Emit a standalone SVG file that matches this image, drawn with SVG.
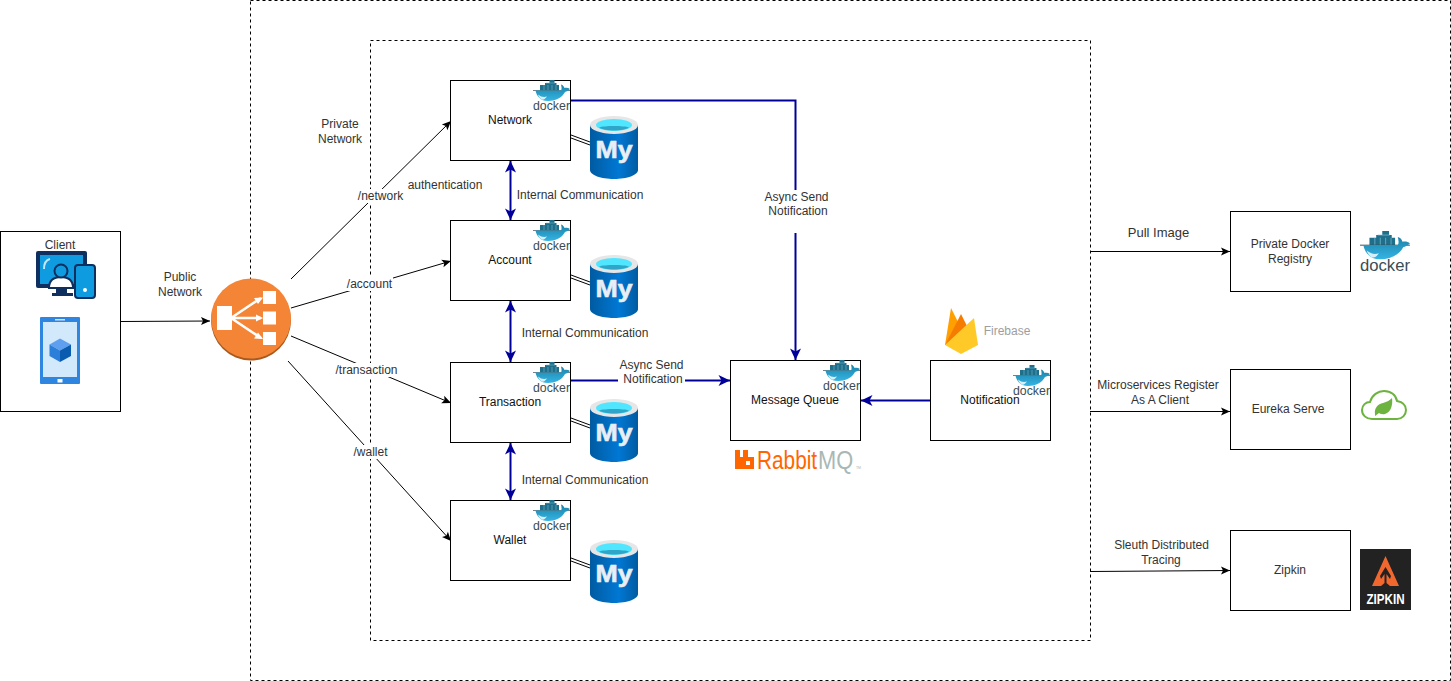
<svg xmlns="http://www.w3.org/2000/svg" width="1451" height="681" viewBox="0 0 1451 681">
<style>
text{font-family:"Liberation Sans",Arial,sans-serif;font-size:12px;text-anchor:middle}
.box{fill:#fff;stroke:#000;stroke-width:1}
.dash{fill:none;stroke:#000;stroke-width:1;stroke-dasharray:3 3}
.lbl{fill:#333}
.node{fill:#111}
.thin{fill:none;stroke:#000;stroke-width:1}
.blue{fill:none;stroke:#000099;stroke-width:2}
.bg{fill:#fff}
</style>
<defs>
<marker id="ak" markerWidth="11" markerHeight="10" refX="9.5" refY="4.5" orient="auto" markerUnits="userSpaceOnUse" overflow="visible"><path d="M0.5 0.5L9.5 4.5L0.5 8.500L2.500 4.500Z" fill="#000"/></marker>
<marker id="ab" markerWidth="13" markerHeight="12" refX="11.500" refY="6" orient="auto-start-reverse" markerUnits="userSpaceOnUse" overflow="visible"><path d="M0 0.500L11.500 6L0 11.500L3 6Z" fill="#000099"/></marker>
<linearGradient id="hull" x1="0" y1="0" x2="0" y2="1"><stop offset="0" stop-color="#1b82a8"/><stop offset="1" stop-color="#35b4e4"/></linearGradient>
<linearGradient id="my" x1="0" y1="0" x2="1" y2="0"><stop offset="0" stop-color="#005ba1"/><stop offset=".6" stop-color="#0078d4"/><stop offset="1" stop-color="#005ba1"/></linearGradient>
<g id="docker">
<path d="M7 5h5v-2h4.500v-3h5v3h2v2h2.500v5.500H7Z" fill="#1f6f8b"/>
<path d="M11 5v5.500M15 5v5.500M19 5v5.500M23 5v5.500M13 3h9" stroke="#7fc4dc" stroke-width=".5" fill="none"/>
<path d="M0 10.500H37" stroke="#394d54" stroke-width=".7"/>
<path d="M2.500 10.500H28C29 9 28.500 6.500 28 4.500C30 5 31 6.500 31.500 8C33.500 7.500 35.500 8 37 9C35.500 10.500 33.500 11.500 32 12C29 18 22 21 15 21C7.500 21 3.500 16 2.500 10.500Z" fill="url(#hull)"/>
<path d="M5 14.500C8 17 11 17.500 14 16.500C12 19.500 10 20.500 8 19C6.500 18 5.500 16 5 14.500Z" fill="#d5eef7"/>
<text x="18.500" y="29.500" style="font-size:12.500px;fill:#394d54" textLength="37" lengthAdjust="spacingAndGlyphs">docker</text>
</g>
<g id="mysql">
<path d="M0 9V54C0 59 11 63 24 63S48 59 48 54V9Z" fill="url(#my)"/>
<ellipse cx="24" cy="9" rx="24" ry="9" fill="#e6e6e6"/>
<ellipse cx="24" cy="9" rx="18" ry="6" fill="#50e6ff"/>
<path d="M9 11.500C14 9.500 34 9.500 39 11.500C34 15.500 14 15.500 9 11.500Z" fill="#2fa6c8"/>
<text x="24" y="42" style="font-size:23px;font-weight:bold;fill:#e8eef5;stroke:#e8eef5;stroke-width:.6" textLength="37" lengthAdjust="spacingAndGlyphs">My</text>
</g>
</defs>
<rect width="1451" height="681" fill="#fff"/>
<rect class="dash" x="250.500" y="0.500" width="1200" height="680"/>
<rect class="dash" x="370.500" y="40.500" width="720" height="600"/>

<g id="connectors">
<path class="thin" d="M121 321.500L210 321" marker-end="url(#ak)"/>
<path class="thin" d="M291 279L451 121" marker-end="url(#ak)"/>
<path class="thin" d="M291 308L451 261" marker-end="url(#ak)"/>
<path class="thin" d="M291 336L451 403" marker-end="url(#ak)"/>
<path class="thin" d="M288 361L451 541" marker-end="url(#ak)"/>
<path class="thin" d="M571 135L590 142M571 138L590 145"/>
<path class="thin" d="M571 275L590 282M571 278L590 285"/>
<path class="thin" d="M571 418L590 425M571 421L590 428"/>
<path class="thin" d="M571 558L590 565M571 561L590 568"/>
<path class="blue" d="M510.500 161V220" marker-start="url(#ab)" marker-end="url(#ab)"/>
<path class="blue" d="M510.500 301V362" marker-start="url(#ab)" marker-end="url(#ab)"/>
<path class="blue" d="M510.500 443V500" marker-start="url(#ab)" marker-end="url(#ab)"/>
<path class="blue" d="M570 100.500H795.500V360" marker-end="url(#ab)"/>
<path class="blue" d="M570 380.500H730" marker-end="url(#ab)"/>
<path class="blue" d="M930 400.500H861" marker-end="url(#ab)"/>
<path class="thin" d="M1090 251.500H1230" marker-end="url(#ak)"/>
<path class="thin" d="M1090 411.500H1230" marker-end="url(#ak)"/>
<path class="thin" d="M1090 571.500L1230 570.500" marker-end="url(#ak)"/>
<rect class="bg" x="360" y="189" width="42" height="14"/>
<rect class="bg" x="346" y="277" width="47" height="14"/>
<rect class="bg" x="335" y="363" width="63" height="14"/>
<rect class="bg" x="352" y="445" width="37" height="14"/>
<rect class="bg" x="760" y="190" width="72" height="43"/>
<rect class="bg" x="618" y="372" width="67" height="14"/>
<text class="lbl" x="380.500" y="200">/network</text>
<text class="lbl" x="369.500" y="288">/account</text>
<text class="lbl" x="366.500" y="374">/transaction</text>
<text class="lbl" x="370.500" y="456">/wallet</text>
<text class="lbl" x="180" y="281">Public</text>
<text class="lbl" x="180" y="296">Network</text>
<text class="lbl" x="340" y="128">Private</text>
<text class="lbl" x="340" y="143">Network</text>
<text class="lbl" x="445" y="189">authentication</text>
<text class="lbl" x="580" y="199">Internal Communication</text>
<text class="lbl" x="585" y="337">Internal Communication</text>
<text class="lbl" x="585" y="484">Internal Communication</text>
<text class="lbl" x="796.500" y="201">Async Send</text>
<text class="lbl" x="798" y="215">Notification</text>
<text class="lbl" x="651.500" y="369">Async Send</text>
<text class="lbl" x="653" y="383">Notification</text>
<text class="lbl" x="1158.500" y="237" style="font-size:13px">Pull Image</text>
<text class="lbl" x="1158" y="389">Microservices Register</text>
<text class="lbl" x="1160" y="404">As A Client</text>
<text class="lbl" x="1161.500" y="549">Sleuth Distributed</text>
<text class="lbl" x="1161" y="564">Tracing</text>
</g>

<g id="client">
<rect x="0.500" y="231.500" width="120" height="180" fill="#fff" stroke="#000"/>
<text class="lbl" x="60" y="249">Client</text>
<g id="client-desktop">
<rect x="36" y="251" width="51" height="37" rx="2" fill="#0f2f5f"/>
<rect x="40" y="255" width="43" height="29" fill="#0f9be0"/>
<path d="M44 269C44 263 46 260 50 259" stroke="#bfe6fb" stroke-width="2" fill="none"/>
<path d="M56 288H67V293H73V296H52V293H56Z" fill="#0f2f5f"/>
<path d="M49 288C49 280 54 277 61 277S73 280 73 288Z" fill="#fff" stroke="#0f2f5f" stroke-width="2"/>
<circle cx="61" cy="271" r="6.500" fill="#0f9be0" stroke="#0f2f5f" stroke-width="2"/>
<rect x="75" y="265" width="20" height="33" rx="3" fill="#0f9be0" stroke="#0f2f5f" stroke-width="2"/>
<circle cx="85" cy="290" r="2" fill="#fff"/>
</g>
<g id="client-mobile">
<rect x="40" y="317" width="40" height="67" rx="1" fill="#2f86e0"/>
<rect x="43" y="322" width="34" height="55" fill="#d2e9fb"/>
<rect x="55" y="319" width="10" height="1.500" fill="#cfe3f8"/>
<rect x="57.500" y="379" width="5" height="3.500" fill="#fff"/>
<path d="M60 338.500L71 344.500L60 350.500L49.500 344.500Z" fill="#5ea0ef"/>
<path d="M49.500 344.500L60 350.500V362L49.500 356Z" fill="#2b7fd8"/>
<path d="M71 344.500L60 350.500V362L71 356Z" fill="#0a5cb0"/>
</g>
</g>

<g id="load-balancer">
<circle cx="251" cy="320.500" r="40" fill="#a8591e"/>
<circle cx="251" cy="318.500" r="40" fill="#f58536"/>
<rect x="217" y="306" width="15" height="24" fill="#fff"/>
<rect x="263" y="291" width="13" height="13" fill="#fff"/>
<rect x="263" y="311.500" width="13" height="13" fill="#fff"/>
<rect x="263" y="332" width="13" height="13" fill="#fff"/>
<path d="M231 318L261 298M231 318H261M231 318L261 338" stroke="#fff" stroke-width="2.500" fill="none"/>
<path d="M263 297.500L254 298L258 304ZM263 318L256 314.500V321.500ZM263 339L254 338.500L258 332.500Z" fill="#fff"/>
</g>

<g id="network"><rect class="box" x="450.500" y="80.500" width="120" height="80"/><text class="node" x="510" y="124">Network</text><use href="#docker" x="533" y="80"/><use href="#mysql" x="590" y="116"/></g>
<g id="account"><rect class="box" x="450.500" y="220.500" width="120" height="80"/><text class="node" x="510" y="264">Account</text><use href="#docker" x="533" y="220"/><use href="#mysql" x="590" y="255"/></g>
<g id="transaction"><rect class="box" x="450.500" y="362.500" width="120" height="80"/><text class="node" x="510" y="406">Transaction</text><use href="#docker" x="533" y="362"/><use href="#mysql" x="590" y="399"/></g>
<g id="wallet"><rect class="box" x="450.500" y="500.500" width="120" height="80"/><text class="node" x="510" y="544">Wallet</text><use href="#docker" x="533" y="500"/><use href="#mysql" x="590" y="540"/></g>

<g id="message-queue"><rect class="box" x="730.500" y="360.500" width="130" height="80"/><text class="node" x="795" y="404">Message Queue</text><use href="#docker" x="823" y="360"/>
<path d="M735 450H740V457H743V450H748V457H754V469H735ZM746 461V465H750V461Z" fill="#f60" fill-rule="evenodd"/>
<text transform="translate(757 469) scale(.8 1)" style="font-size:26px;text-anchor:start;fill:#f60">Rabbit</text>
<text transform="translate(818 469) scale(.84 1)" style="font-size:26px;text-anchor:start;fill:#a9b8b5">MQ</text>
<text x="858.500" y="469" style="font-size:3.500px;fill:#a9b8b5">TM</text>
</g>

<g id="notification"><rect class="box" x="930.500" y="360.500" width="120" height="80"/><use href="#docker" x="1013" y="365"/><text class="node" x="990" y="404">Notification</text>
<path d="M945 345L951 308L960 326Z" fill="#ffa000"/>
<path d="M945 345L961 314L967 326L960 345Z" fill="#f57c00"/>
<path d="M945 345L974 318L978 345L961 354Z" fill="#ffca28"/>
<text x="1007" y="335" style="fill:#9e9e9e">Firebase</text>
</g>

<g id="docker-registry"><rect class="box" x="1230.500" y="211.500" width="120" height="80"/><text class="lbl" x="1290" y="248">Private Docker</text><text class="lbl" x="1290" y="263">Registry</text><use href="#docker" transform="translate(1360 231) scale(1.350)"/></g>

<g id="eureka"><rect class="box" x="1230.500" y="369.500" width="120" height="80"/><text class="lbl" x="1288" y="413">Eureka Serve</text>
<path d="M1372 419C1366 419 1362 415 1362 410C1362 405 1366 402 1370 402C1372 395 1378 391 1384 391C1391 391 1396 395 1397 401C1402 402 1406 405 1406 410C1406 415 1402 419 1397 419Z" fill="#fff" stroke="#6db33f" stroke-width="2"/>
<path d="M1375 414C1374 408 1378 404 1383 403C1387 402 1390 400 1392 398C1393 405 1391 412 1385 414C1382 415 1379 413 1379 413L1375 416Z" fill="#6db33f"/>
</g>

<g id="zipkin"><rect class="box" x="1230.500" y="530.500" width="120" height="80"/><text class="lbl" x="1290" y="574">Zipkin</text>
<rect x="1360" y="549" width="51" height="61" fill="#222"/>
<path d="M1385.500 556L1399 586H1390L1386.500 583V574L1390 579L1391 576L1385.500 567L1380 576L1381 579L1384.500 574V583L1381 586H1372Z" fill="#f2672e"/>
<text x="1385.500" y="604" style="font-size:14px;font-weight:bold;fill:#fff" textLength="38" lengthAdjust="spacingAndGlyphs">ZIPKIN</text>
</g>
</svg>
